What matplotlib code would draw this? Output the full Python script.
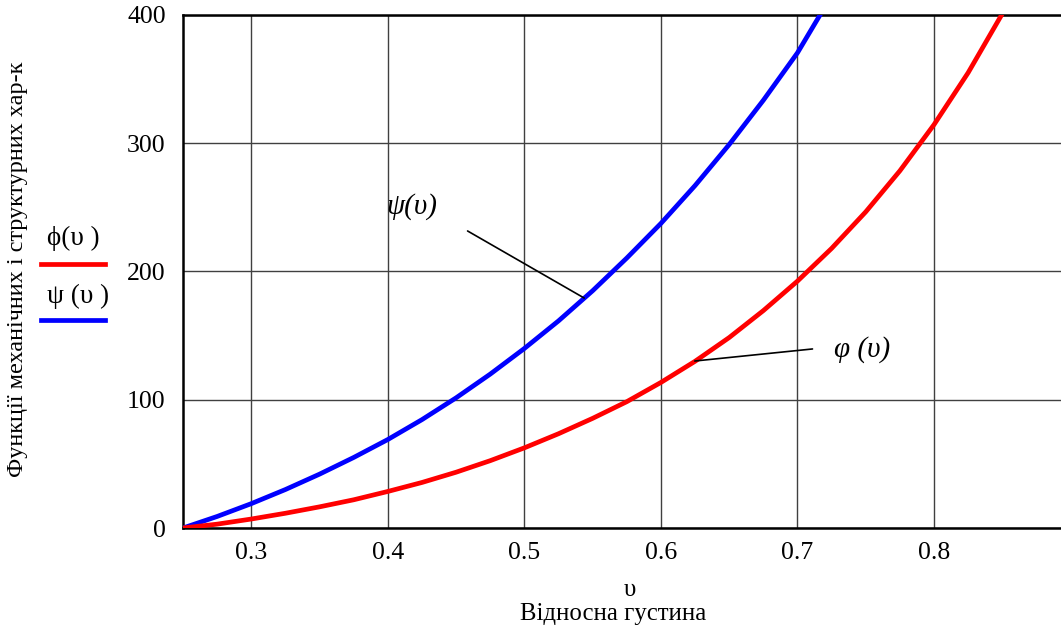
#!/usr/bin/env python3
"""Mechanical and structural characteristic functions vs relative density."""

import matplotlib
matplotlib.use("Agg")
import matplotlib.pyplot as plt

# values
density = [0.25, 0.275, 0.3, 0.325, 0.35, 0.375, 0.4, 0.425, 0.45, 0.475,
           0.5, 0.525, 0.55, 0.575, 0.6, 0.625, 0.65, 0.675, 0.7, 0.7165]
psi_vals = [0, 9, 19, 30, 42, 55, 69, 84.5, 101.5, 120,
            140, 161.5, 185, 210.5, 237.5, 267, 299, 333.5, 370.5, 400]

density_phi = [0.25, 0.275, 0.3, 0.325, 0.35, 0.375, 0.4, 0.425, 0.45, 0.475,
               0.5, 0.525, 0.55, 0.575, 0.6, 0.625, 0.65, 0.675, 0.7, 0.725,
               0.75, 0.775, 0.8, 0.825, 0.85]
phi_vals = [0, 3, 7, 11.5, 16.5, 22, 28.5, 35.5, 43.5, 52.5,
            62.5, 73.5, 85.5, 98.5, 113.5, 130, 148.5, 169.5, 192.5, 218,
            246.5, 278.5, 314.5, 355, 401]

x_ticks = [0.3, 0.4, 0.5, 0.6, 0.7, 0.8]
y_ticks = [0, 100, 200, 300, 400]

plt.rcParams['font.family'] = ['Liberation Serif', 'DejaVu Serif']

fig = plt.figure(figsize=(10.61, 6.3), dpi=100)
ax = fig.add_axes([0.1725, 0.1619, 0.8275, 0.8143])

ax.plot(density, psi_vals, color='#0000ff', lw=3.4, solid_joinstyle='round', zorder=3)
ax.plot(density_phi, phi_vals, color='#ff0000', lw=3.4, solid_joinstyle='round', zorder=3)

ax.set_xlim(0.25, 0.893)
ax.set_ylim(0, 400)
ax.set_xticks(x_ticks)
ax.set_yticks(y_ticks)
ax.set_xticklabels([f'{t:.1f}' for t in x_ticks])
ax.tick_params(length=0, labelsize=18.5)
ax.tick_params(axis='y', pad=12.5)
ax.tick_params(axis='x', pad=10)
ax.grid(True, color='#404040', lw=1.0)

for side in ('left', 'bottom', 'top'):
    ax.spines[side].set_linewidth(1.8)
ax.spines['right'].set_visible(False)

# axis labels
fig.text(630 / 1061, 1 - 590 / 630, 'υ', ha='center', va='center', fontsize=18)
fig.text(613 / 1061, 1 - 614 / 630, 'Відносна густина', ha='center', va='center', fontsize=17.8)
fig.text(18 / 1061, 1 - 269 / 630, 'Функції механічних і структурних хар-к',
         rotation=90, ha='center', va='center', fontsize=17.5)

# legend on the left
fig.text(73 / 1061, 1 - 238 / 630, 'ϕ(υ )', ha='center', va='center', fontsize=19.5)
fig.lines.append(plt.Line2D([41 / 1061, 105 / 1061], [1 - 264 / 630, 1 - 264 / 630],
                            color='#ff0000', lw=3.4, transform=fig.transFigure))
fig.text(78 / 1061, 1 - 296 / 630, 'ψ (υ )', ha='center', va='center', fontsize=19.5)
fig.lines.append(plt.Line2D([41 / 1061, 105 / 1061], [1 - 320 / 630, 1 - 320 / 630],
                            color='#0000ff', lw=3.4, transform=fig.transFigure))

# curve labels with leader lines
ax.annotate('', xy=(0.5438, 179.3), xytext=(0.4584, 231.6),
            arrowprops=dict(arrowstyle='-', color='black', lw=1.2, shrinkA=0, shrinkB=0))
ax.text(0.4175, 250.3, 'ψ(υ)', ha='center', va='center', fontsize=21, style='italic')
ax.annotate('', xy=(0.6248, 130.2), xytext=(0.711, 139.6),
            arrowprops=dict(arrowstyle='-', color='black', lw=1.2, shrinkA=0, shrinkB=0))
ax.text(0.7474, 138.8, 'φ (υ)', ha='center', va='center', fontsize=21, style='italic')

fig.savefig('out.png', dpi=100)
